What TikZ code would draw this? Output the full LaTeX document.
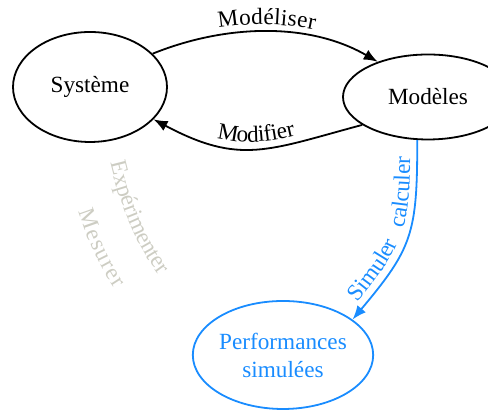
\documentclass[tikz,border=0pt]{standalone}
\usepackage{fontspec}
\setmainfont{Liberation Serif}
\usepackage{tikz}
\usetikzlibrary{shapes.geometric}
\usetikzlibrary{arrows.meta}
\usetikzlibrary{decorations.text}
\definecolor{simblue}{RGB}{25,140,255}
\definecolor{mesgray}{RGB}{205,205,195}
\tikzset{every picture/.style={x=0.5pt,y=0.5pt,>={Latex[length=7pt,width=5.5pt]},line width=0.9pt}}
\tikzset{onpath/.style={decorate,decoration={text along path,text={#1},text align=center,raise=3.5pt}}}
\begin{document}
\begin{tikzpicture}
		\fontsize{11.6}{14}\selectfont
		\useasboundingbox (0,0) rectangle (488,410);
		\node[shape=ellipse, draw=black, minimum width=77pt, minimum height=55pt, inner sep=0pt] (sys) at (90,323) {Système};
		\node[shape=ellipse, draw=black, minimum width=85pt, minimum height=42.5pt, inner sep=0pt] (mod) at (428,313) {Modèles};
		\node[shape=ellipse, draw=simblue, text=simblue, minimum width=85pt, minimum height=54pt, inner sep=0pt, align=center] (perf) at (283,55) {Performances\\simulées};
		\path [->] (sys.28) edge[out=22, in=150, looseness=0.9] (mod.145);
		\path [->] (mod.203) edge[out=195, in=-28, looseness=1.2] (sys.333);
		\path [->, simblue] (mod.256) edge[out=-90, in=50, looseness=1.25] (perf.27);
		\path [onpath={Modéliser}] (sys.28) to[out=22, in=150, looseness=0.9] (mod.145);
		\path [onpath={Modifier}] (sys.333) to[out=-28, in=195, looseness=1.2] (mod.203);
		\path [onpath={|\color{simblue}|Simuler~~~calculer}] (perf.27) to[out=50, in=-90, looseness=1.25] (mod.256);
		\path [decorate,decoration={text along path,text={|\color{mesgray}|Expérimenter},text align={left indent=11pt},raise=3pt}] (sys.280) to[out=-78, in=140] (perf.162);
		\path [decorate,decoration={text along path,text={|\color{mesgray}|Mesurer},text align={left indent=29pt},raise=-19pt}] (sys.280) to[out=-78, in=140] (perf.162);
	\end{tikzpicture}
\end{document}
